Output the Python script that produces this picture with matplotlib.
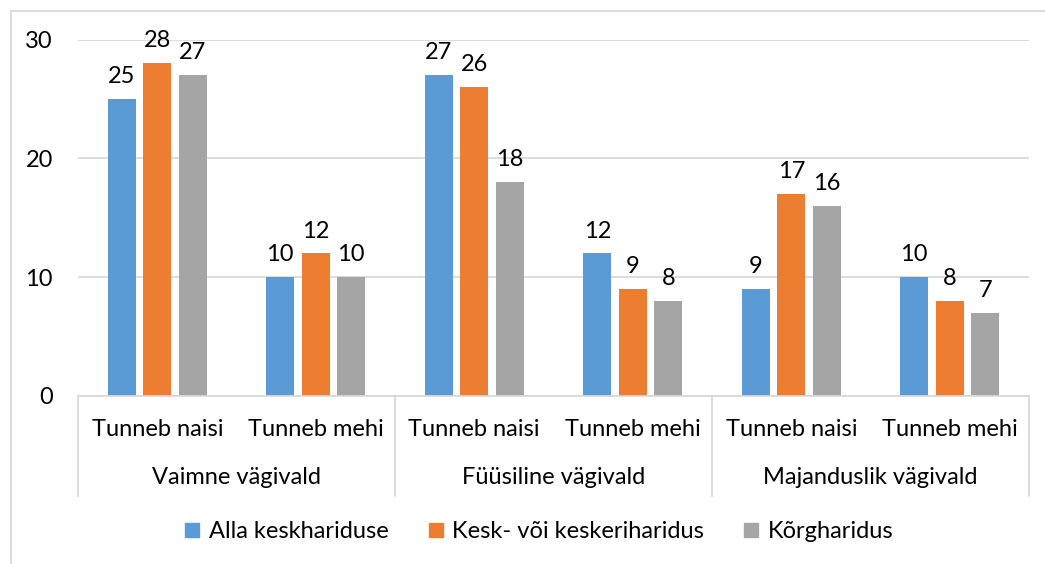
import matplotlib.pyplot as plt
from matplotlib.lines import Line2D
import numpy as np

plt.rcParams['font.family'] = ['Lato', 'DejaVu Sans']

groups = ['Vaimne vägivald', 'Füüsiline vägivald', 'Majanduslik vägivald']
subcats = ['Tunneb naisi', 'Tunneb mehi'] * 3
series = ['Alla keskhariduse', 'Kesk- või keskeriharidus', 'Kõrgharidus']
alla = [25, 10, 27, 12, 9, 10]
kesk = [28, 12, 26, 9, 17, 8]
korg = [27, 10, 18, 8, 16, 7]
colors = ['#5B9BD5', '#ED7D31', '#A5A5A5']
grid_c = '#D9D9D9'
fs = 17

W, H = 1045, 564
fig = plt.figure(figsize=(W / 100, H / 100), dpi=100)

# plot area in pixels
x0, x1, y_top, y_bot = 78, 1029, 39.5, 396
ax = fig.add_axes([x0 / W, 1 - y_bot / H, (x1 - x0) / W, (y_bot - y_top) / H])

n = len(subcats)
x = np.arange(n)
bw = 0.177
pitch = 0.224
for i, (vals, c) in enumerate(zip([alla, kesk, korg], colors)):
    pos = x + (i - 1) * pitch
    bars = ax.bar(pos, vals, width=bw, color=c, zorder=3)
    for b, v in zip(bars, vals):
        ax.annotate(str(v), (b.get_x() + b.get_width() / 2, v), xytext=(0, 8.5),
                    textcoords='offset points', ha='center', va='bottom', fontsize=fs)

ax.set_xlim(-0.5, n - 0.5)
ax.set_ylim(0, 30)
ax.set_yticks([0, 10, 20, 30])
ax.tick_params(axis='y', length=0, pad=18, labelsize=fs)
ax.set_xticks([])
ax.yaxis.grid(True, color=grid_c, linewidth=1.3, zorder=0)
for s in ['top', 'right', 'left']:
    ax.spines[s].set_visible(False)
ax.spines['bottom'].set_color(grid_c)
ax.spines['bottom'].set_linewidth(1.3)
ax.spines['bottom'].set_zorder(4)

# multi-level category labels
def fy(py):
    return 1 - py / H

def fx(px):
    return px / W

for i, lab in enumerate(subcats):
    cx = x0 + (i + 0.5) * (x1 - x0) / n
    fig.text(fx(cx), fy(430), lab, ha='center', va='center', fontsize=fs)
for g, lab in enumerate(groups):
    cx = x0 + (g + 0.5) * (x1 - x0) / 3
    fig.text(fx(cx), fy(478), lab, ha='center', va='center', fontsize=fs)
for g in range(4):
    sx = x0 + g * (x1 - x0) / 3
    fig.add_artist(Line2D([fx(sx), fx(sx)], [fy(396), fy(496)], color=grid_c, linewidth=1.3))

# outer chart border (top and left only visible)
fig.add_artist(Line2D([fx(11), fx(W)], [fy(11), fy(11)], color=grid_c, linewidth=1.3))
fig.add_artist(Line2D([fx(11), fx(11)], [fy(11), fy(H)], color=grid_c, linewidth=1.3))

handles = [Line2D([], [], marker='s', linestyle='none', markersize=10,
                  markerfacecolor=c, markeredgecolor=c) for c in colors]
fig.legend(handles, series, loc='center', bbox_to_anchor=(fx(538), fy(532)),
           ncol=3, frameon=False, fontsize=fs, handletextpad=0.3,
           columnspacing=1.6, handlelength=0.8)

fig.savefig('out.png', dpi=100)
